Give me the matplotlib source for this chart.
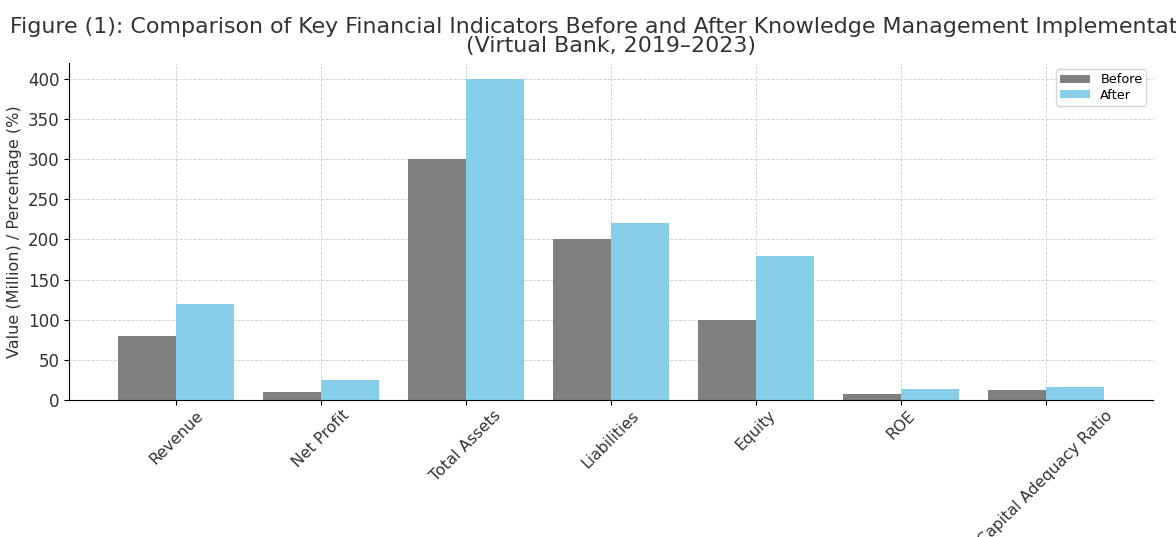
import numpy as np
from matplotlib import pyplot as plt

# Chart data
categories = ['Revenue', 'Net Profit', 'Total Assets', 'Liabilities',
              'Equity', 'ROE', 'Capital Adequacy Ratio']
before = [80, 10, 300, 200, 100, 8, 12]
after = [120, 25, 400, 220, 180, 14, 16]


def main():
    fig = plt.figure(figsize=(11.76, 5.37), dpi=100)
    ax = fig.add_axes([0.0587, 0.255, 0.9217, 0.628])

    x = np.arange(len(categories))
    width = 0.4

    ax.bar(x - width / 2, before, width, label='Before', color='#808080')
    ax.bar(x + width / 2, after, width, label='After', color='#87CEEB')

    ax.set_xticks(x)
    ax.set_xticklabels(categories, rotation=45, ha='center', fontsize=11.3, color='#333333')
    ax.tick_params(axis='x', pad=2)
    ax.tick_params(axis='y', labelsize=12, labelcolor='#333333')
    ax.set_ylabel('Value (Million) / Percentage (%)', fontsize=11.5, color='#333333')

    # Title is wider than the figure, as in the original export
    ax.set_title('Figure (1): Comparison of Key Financial Indicators Before and After '
                 'Knowledge Management Implementation\n(Virtual Bank, 2019\u20132023)',
                 fontsize=15.9, color='#333333', linespacing=0.95, pad=8)

    # Grid and spines
    ax.grid(True, linestyle='--', linewidth=0.6, color='#cccccc')
    ax.set_axisbelow(True)
    ax.spines['top'].set_visible(False)
    ax.spines['right'].set_visible(False)

    ax.legend(loc='upper right', fontsize=9.3, labelspacing=0.2, borderpad=0.3,
              handleheight=0.6, handlelength=2.3)

    fig.savefig('out.png', dpi=100)


# Only if this file is run directly
if __name__ == '__main__':
    main()
